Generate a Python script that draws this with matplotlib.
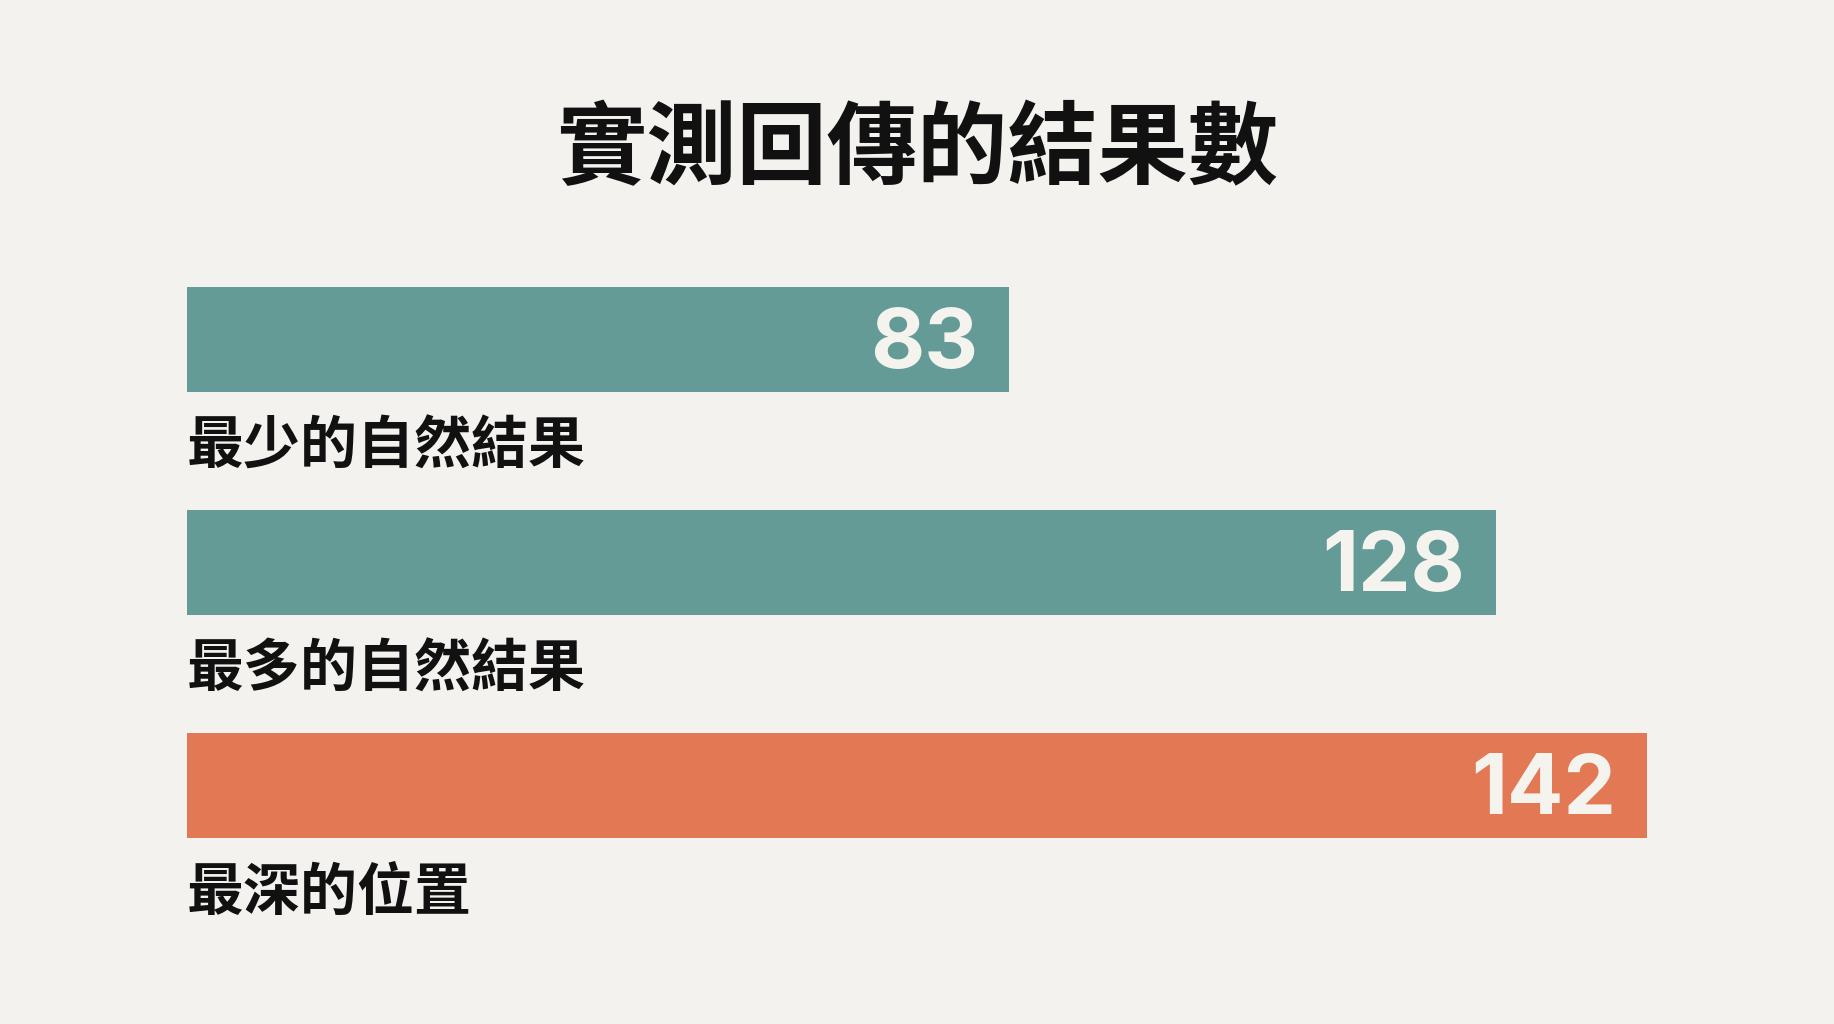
import matplotlib
matplotlib.use("Agg")
import matplotlib.pyplot as plt
import matplotlib.transforms as mtransforms

# values
title = "實測回傳的結果數"
labels = ["最少的自然結果", "最多的自然結果", "最深的位置"]
values = [83, 128, 142]
colors = ["#659b97", "#659b97", "#e37855"]

bg = "#f3f2ee"
cjk = ["Noto Sans CJK TC", "DejaVu Sans"]

fig = plt.figure(figsize=(18.34, 10.24), dpi=100, facecolor=bg)
ax = fig.add_axes([187 / 1834, 1 - 897 / 1024, 1460 / 1834, 669 / 1024])
ax.set_facecolor(bg)

ypos = list(range(len(values)))
ax.barh(ypos, values, height=0.47, color=colors, align="center")

# labels sit at the left edge of the axes, under each bar
trans = mtransforms.blended_transform_factory(ax.transAxes, ax.transData)
for y, v, lab in zip(ypos, values, labels):
    ax.annotate(str(v), xy=(v, y), xytext=(-22, -5), textcoords="offset points",
                ha="right", va="center", color="#f5f3ee",
                fontsize=60, fontweight="bold", family=["Inter", "DejaVu Sans"])
    ax.text(0, y + 0.48, lab, transform=trans, ha="left", va="center",
            fontsize=41, fontweight="bold", family=cjk, color="#111111",
            clip_on=False)

# axis does not start at zero
ax.set_xlim(7, max(values))
ax.set_ylim(len(values) - 0.5, -0.5)
ax.axis("off")

fig.text(0.5, 1 - 150 / 1024, title, ha="center", va="center", fontsize=65,
         fontweight="bold", family=cjk, color="#111111")

fig.savefig("out.png", dpi=100, facecolor=bg)
